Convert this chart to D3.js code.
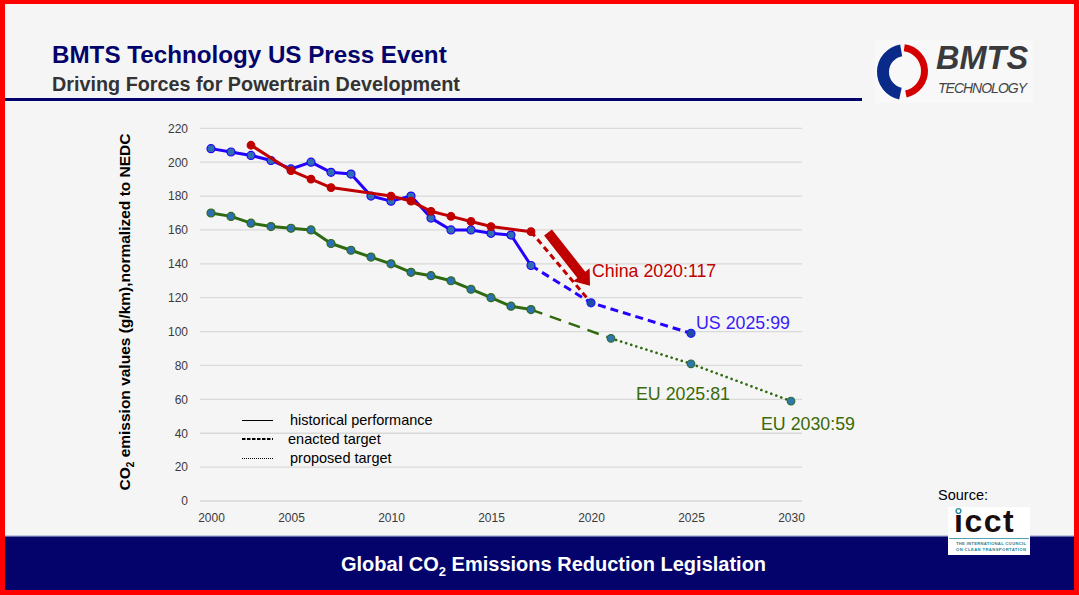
<!DOCTYPE html>
<html>
<head>
<meta charset="utf-8">
<script src="https://cdn.jsdelivr.net/npm/d3@7"></script>
<style>
  html, body { margin: 0; padding: 0; background: #f5f5f5; }
  svg { display: block; }
  text { font-family: "Liberation Sans", Arial, sans-serif; }
</style>
</head>
<body>
<svg id="chart" width="1079" height="595"></svg>
<script>
// ---------- DATA ----------
const title = "BMTS Technology US Press Event";
const subtitle = "Driving Forces for Powertrain Development";
const footerText = ["Global CO", "2", " Emissions Reduction Legislation"];
const yAxisTitle = ["CO", "2", " emission values (g/km),normalized to NEDC"];

const yTicks = [0, 20, 40, 60, 80, 100, 120, 140, 160, 180, 200, 220];
const xTickYears = [2001, 2005, 2010, 2015, 2020, 2025, 2030];
const xTickLabels = ["2000", "2005", "2010", "2015", "2020", "2025", "2030"];

// US (blue)
const usHistYears = [2001,2002,2003,2004,2005,2006,2007,2008,2009,2010,2011,2012,2013,2014,2015,2016,2017];
const usHistValues = [208,206,204,201,196,200,194,193,180,177,180,167,160,160,158,157,139];
const usEnactedYears = [2017, 2020, 2025];
const usEnactedValues = [139, 117, 99];

// China (red)
const chinaHistYears = [2003,2005,2006,2007,2010,2011,2012,2013,2014,2015,2017];
const chinaHistValues = [210,195,190,185,180,177,171,168,165,162,159];
const chinaEnactedYears = [2017, 2020];
const chinaEnactedValues = [159, 117];

// EU (green)
const euHistYears = [2001,2002,2003,2004,2005,2006,2007,2008,2009,2010,2011,2012,2013,2014,2015,2016,2017];
const euHistValues = [170,168,164,162,161,160,152,148,144,140,135,133,130,125,120,115,113];
const euEnactedYears = [2017, 2021];
const euEnactedValues = [113, 96];
const euProposedYears = [2021, 2025, 2030];
const euProposedValues = [96, 81, 59];

const targetLabels = ["China 2020:117", "US 2025:99", "EU 2025:81", "EU 2030:59"];
const targetLabelYears = [2020, 2025, 2025, 2030];
const targetLabelValues = [117, 99, 81, 59];

const legendLabels = ["historical performance", "enacted target", "proposed target"];

// arrow annotation (data coords: from -> to)
const arrowYears = [2017.85, 2019.95];
const arrowValues = [158.5, 127];

// ---------- DRAW ----------
const svg = d3.select("#chart");
const W = 1079, H = 595;

// red frame + slide background
svg.append("rect").attr("x",0).attr("y",0).attr("width",W).attr("height",H).attr("fill","#ff0000");
svg.append("rect").attr("x",5).attr("y",4).attr("width",1069).attr("height",586).attr("fill","#f5f5f5");

// header
svg.append("text").attr("x",52).attr("y",63).attr("font-size",24.2).attr("font-weight","bold")
  .attr("fill","#03036b").text(title);
svg.append("text").attr("x",52).attr("y",91).attr("font-size",19.8).attr("font-weight","bold")
  .attr("fill","#333333").text(subtitle);
svg.append("rect").attr("x",5).attr("y",98).attr("width",857).attr("height",3).attr("fill","#03036b");

// BMTS logo
const logo = svg.append("g");
logo.append("rect").attr("x",875).attr("y",40).attr("width",158).attr("height",63).attr("fill","#f8f8f8");
const deg = Math.PI/180;
logo.append("path").attr("transform","translate(905,72)")
  .attr("d", d3.arc()({innerRadius:16, outerRadius:28, startAngle:192*deg, endAngle:350*deg}))
  .attr("fill","#0a2a8a");
logo.append("path").attr("transform","translate(901,71)")
  .attr("d", d3.arc()({innerRadius:20, outerRadius:27, startAngle:8*deg, endAngle:168*deg}))
  .attr("fill","#d40000");
logo.append("text").attr("x",936).attr("y",69).attr("font-size",32.5).attr("font-weight","bold")
  .attr("font-style","italic").attr("fill","#3a3a3c").text("BMTS");
logo.append("text").attr("x",938).attr("y",93).attr("font-size",14).attr("font-style","italic")
  .attr("fill","#444").attr("textLength",89).text("TECHNOLOGY");

// footer band
svg.append("rect").attr("x",5).attr("y",536).attr("width",1069).attr("height",54).attr("fill","#03036b");
svg.append("rect").attr("x",5).attr("y",535).attr("width",1069).attr("height",1.5).attr("fill","#c3c9dc");
const ft = svg.append("text").attr("x",341).attr("y",571).attr("font-size",20).attr("font-weight","bold").attr("fill","#ffffff");
ft.append("tspan").text(footerText[0]);
ft.append("tspan").attr("font-size",13).attr("dy",5).text(footerText[1]);
ft.append("tspan").attr("dy",-5).text(footerText[2]);

// scales
const x = d3.scaleLinear().domain([2001, 2030]).range([211, 791]);
const y = d3.scaleLinear().domain([0, 220]).range([501, 128.3]);
const gridX0 = x(2001) - 11, gridX1 = x(2030) + 11;

// gridlines
svg.append("g").selectAll("line").data(yTicks).join("line")
  .attr("x1", gridX0).attr("x2", gridX1)
  .attr("y1", d => y(d)).attr("y2", d => y(d))
  .attr("stroke", "#d9d9d9").attr("stroke-width", 1.3);

// y axis
const yAxis = svg.append("g").attr("transform", `translate(${gridX0},0)`)
  .call(d3.axisLeft(y).tickValues(yTicks).tickSize(0).tickPadding(12));
yAxis.select(".domain").remove();
yAxis.selectAll("text").attr("font-size", 12).attr("fill", "#3b3b3b")
  .attr("font-family", "'Liberation Sans', Arial, sans-serif");

// x axis
const xAxis = svg.append("g").attr("transform", `translate(0,${y(0)})`)
  .call(d3.axisBottom(x).tickValues(xTickYears).tickFormat((d, i) => xTickLabels[i]).tickSize(0).tickPadding(12));
xAxis.select(".domain").remove();
xAxis.selectAll("text").attr("font-size", 12).attr("fill", "#3b3b3b")
  .attr("font-family", "'Liberation Sans', Arial, sans-serif");

// y axis title
const yt = svg.append("text").attr("transform", "translate(130,312) rotate(-90)")
  .attr("text-anchor", "middle").attr("font-size", 15.5).attr("font-weight", "bold").attr("fill", "#000");
yt.append("tspan").text(yAxisTitle[0]);
yt.append("tspan").attr("font-size", 10).attr("dy", 4).text(yAxisTitle[1]);
yt.append("tspan").attr("dy", -4).text(yAxisTitle[2]);

// series helpers
const line = d3.line().x(d => x(d[0])).y(d => y(d[1]));
const zip = (a, b) => a.map((v, i) => [v, b[i]]);

function drawLine(years, values, color, width, dash, cap) {
  svg.append("path").datum(zip(years, values))
    .attr("d", line).attr("fill", "none").attr("stroke", color)
    .attr("stroke-width", width).attr("stroke-dasharray", dash || null)
    .attr("stroke-linecap", cap || "butt").attr("stroke-linejoin", "round");
}
function drawMarkers(years, values, fill, stroke, r) {
  svg.append("g").selectAll("circle").data(zip(years, values)).join("circle")
    .attr("cx", d => x(d[0])).attr("cy", d => y(d[1])).attr("r", r || 4)
    .attr("fill", fill).attr("stroke", stroke).attr("stroke-width", 1.2);
}

const cRed = "#c00000", cBlue = "#2400ff", cGreen = "#2f6a10";
const mFill = "#2b6fb0";

// EU
drawLine(euEnactedYears, euEnactedValues, cGreen, 2.5, "12,8");
drawLine(euProposedYears, euProposedValues, cGreen, 2.6, "0.1,5.2", "round");
drawLine(euHistYears, euHistValues, cGreen, 3);
drawMarkers(euHistYears, euHistValues, mFill, cGreen);
drawMarkers(euProposedYears, euProposedValues, "#2e78ad", "#2d6a3a", 3.8);

// US
drawLine(usEnactedYears, usEnactedValues, cBlue, 3, "8,5");
drawLine(usHistYears, usHistValues, cBlue, 3);
drawMarkers(usHistYears, usHistValues, mFill, cBlue);

// China
drawLine(chinaEnactedYears, chinaEnactedValues, cRed, 3, "6,4");
drawLine(chinaHistYears, chinaHistValues, cRed, 3);
drawMarkers(chinaHistYears, chinaHistValues, cRed, cRed, 3.8);

// US enacted markers on top
drawMarkers(usEnactedYears.slice(1), usEnactedValues.slice(1), "#1f4ea0", "#1a1aff", 4);

// arrow
(function () {
  const x0 = x(arrowYears[0]), y0 = y(arrowValues[0]);
  const x1 = x(arrowYears[1]), y1 = y(arrowValues[1]);
  const dx = x1 - x0, dy = y1 - y0, L = Math.hypot(dx, dy);
  const ux = dx / L, uy = dy / L, px = -uy, py = ux;
  const sw = 5, hw = 10.5, hl = 14;
  const bx = x1 - ux * hl, by = y1 - uy * hl;
  const pts = [
    [x0 + px * sw, y0 + py * sw], [bx + px * sw, by + py * sw], [bx + px * hw, by + py * hw],
    [x1, y1], [bx - px * hw, by - py * hw], [bx - px * sw, by - py * sw], [x0 - px * sw, y0 - py * sw]
  ];
  svg.append("path").attr("d", "M" + pts.map(p => p.join(",")).join("L") + "Z").attr("fill", cRed);
})();

// target labels
const labelStyle = [
  { dx: 1, dy: -26, color: "#c00000" },
  { dx: 5, dy: -4, color: "#3b1cf5" },
  { dx: -55, dy: 36, color: "#3b6a08" },
  { dx: -30, dy: 29, color: "#3b6a08" }
];
svg.append("g").selectAll("text").data(targetLabels).join("text")
  .attr("x", (d, i) => x(targetLabelYears[i]) + labelStyle[i].dx)
  .attr("y", (d, i) => y(targetLabelValues[i]) + labelStyle[i].dy)
  .attr("font-size", 17.8).attr("fill", (d, i) => labelStyle[i].color)
  .text(d => d);

// legend
const legY = [420.5, 439, 458.5];
const legStyles = [
  { w: 1, dash: null, tx: 290 },
  { w: 2, dash: "3.5,1.5", tx: 288 },
  { w: 1, dash: "1,1", tx: 290 }
];
const leg = svg.append("g");
legendLabels.forEach((lbl, i) => {
  leg.append("line").attr("x1", 242).attr("x2", 273).attr("y1", legY[i]).attr("y2", legY[i])
    .attr("stroke", "#000").attr("stroke-width", legStyles[i].w).attr("stroke-dasharray", legStyles[i].dash);
  leg.append("text").attr("x", legStyles[i].tx).attr("y", legY[i] + 4.5).attr("font-size", 14.5)
    .attr("fill", "#000").text(lbl);
});

// source + icct logo
svg.append("text").attr("x", 938).attr("y", 500).attr("font-size", 14.5).attr("fill", "#000").text("Source:");
const ic = svg.append("g");
ic.append("rect").attr("x", 948).attr("y", 507).attr("width", 82).attr("height", 48).attr("fill", "#ffffff");
ic.append("text").attr("x", 954).attr("y", 532).attr("font-size", 32).attr("font-weight", "bold")
  .attr("fill", "#1a0d0d").attr("letter-spacing", 1.5).text("ıcct");
ic.append("circle").attr("cx", 958.5).attr("cy", 511).attr("r", 2.4).attr("fill", "none")
  .attr("stroke", "#2a8aa0").attr("stroke-width", 1.4);
ic.append("rect").attr("x", 949).attr("y", 538).attr("width", 80).attr("height", 0.8).attr("fill", "#2a8aa0");
ic.append("text").attr("x", 956).attr("y", 544.5).attr("font-size", 4.2).attr("font-weight", "bold")
  .attr("fill", "#2a7f96").attr("textLength", 70).text("THE INTERNATIONAL COUNCIL");
ic.append("text").attr("x", 956).attr("y", 550.5).attr("font-size", 4.2).attr("font-weight", "bold")
  .attr("fill", "#2a7f96").attr("textLength", 70).text("ON CLEAN TRANSPORTATION");
</script>
</body>
</html>
